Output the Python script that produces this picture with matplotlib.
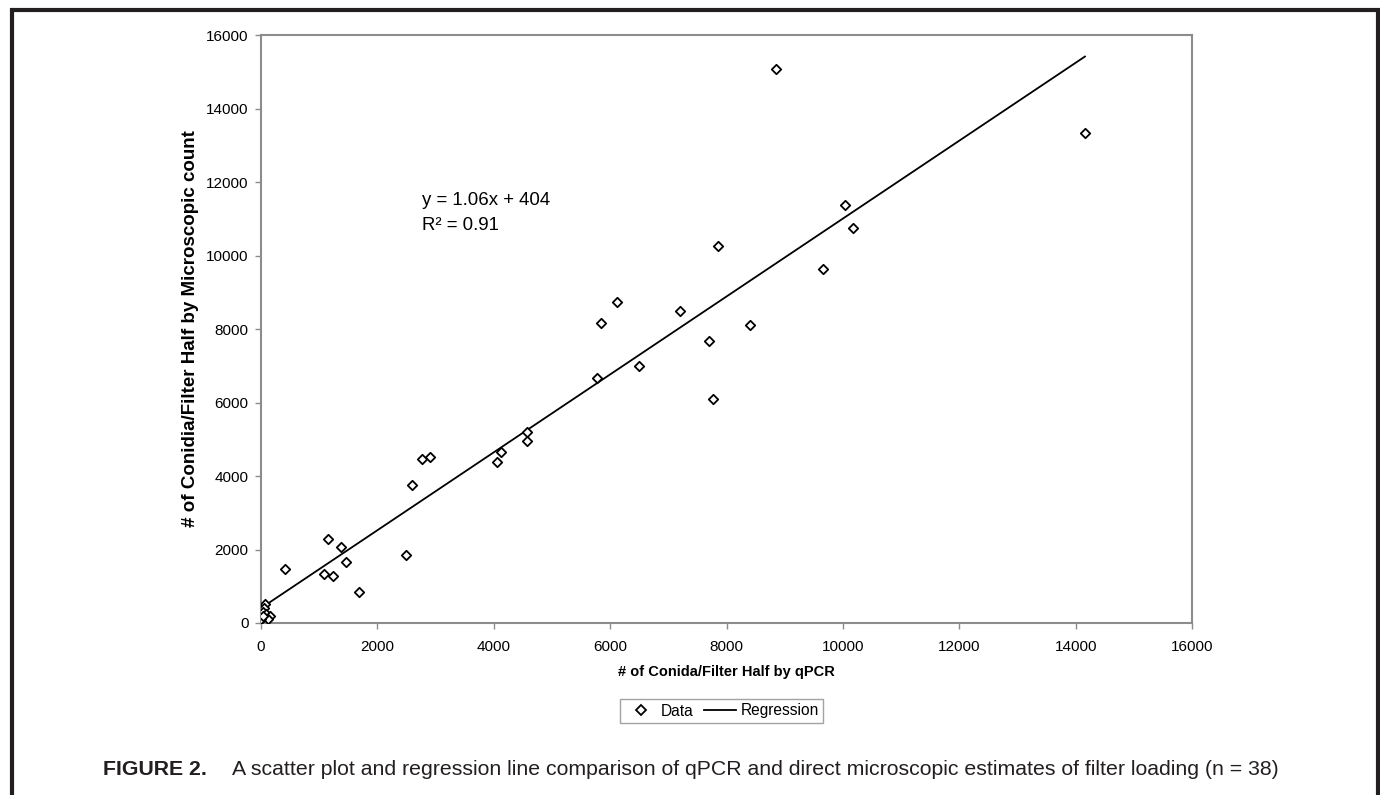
import matplotlib.pyplot as plt
from matplotlib.lines import Line2D
from matplotlib.patches import Rectangle

plt.rcParams['font.family'] = ['Liberation Sans', 'DejaVu Sans']

# qPCR estimate (x) vs microscopic count (y), conidia per filter half
qpcr = [8850, 14160, 10030, 10170, 7860, 9660, 6110, 5840, 7200, 7700,
        8410, 6490, 5780, 7760,
        4570, 4570, 4130, 4060, 2900, 2760, 2600, 2500, 1150, 1380,
        1460, 1090, 1230, 1690, 410,
        70, 50, 40, 90, 155, 10, 125, 5, 30]
micro = [15070, 13330, 11370, 10750, 10250, 9630, 8740, 8160, 8480, 7680,
         8100, 6990, 6680, 6100,
         5190, 4960, 4640, 4390, 4510, 4460, 3760, 1850, 2280, 2070,
         1670, 1340, 1280, 840, 1460,
         520, 400, 310, 245, 190, 130, 100, 110, 200]

slope = 1.06
intercept = 404
r2 = 0.91

ticks = [0, 2000, 4000, 6000, 8000, 10000, 12000, 14000, 16000]

fig = plt.figure(figsize=(13.8, 7.95), dpi=100)
ax = fig.add_axes([261 / 1380, 1 - 623 / 795, 931 / 1380, 588 / 795])

ax.scatter(qpcr, micro, marker='D', s=4.8 ** 2, facecolors='white',
           edgecolors='black', linewidths=1.3, zorder=3)
x0, x1 = min(qpcr), max(qpcr)
ax.plot([x0, x1], [slope * x0 + intercept, slope * x1 + intercept],
        color='black', lw=1.3, zorder=2)

ax.set_xlim(0, 16000)
ax.set_ylim(0, 16000)
ax.set_xticks(ticks)
ax.set_yticks(ticks)
for sp in ax.spines.values():
    sp.set_color('#8c8c8c')
    sp.set_linewidth(1.5)
ax.tick_params(direction='out', length=4, width=1, color='#8c8c8c',
               labelsize=11, labelcolor='black')
ax.tick_params(axis='x', pad=8)
ax.tick_params(axis='y', pad=5)

ax.set_xlabel('# of Conida/Filter Half by qPCR', fontsize=10.5,
              fontweight='bold', labelpad=8)
ax.set_ylabel('# of Conidia/Filter Half by Microscopic count', fontsize=13.5,
              fontweight='bold', labelpad=5)

fig.text(422 / 1380, 1 - 205 / 795, 'y = 1.06x + 404', fontsize=13.4,
         va='baseline', ha='left')
fig.text(422 / 1380, 1 - 230 / 795, 'R² = %.2f' % r2, fontsize=13.4,
         va='baseline', ha='left')

handles = [Line2D([], [], marker='D', ls='none', markersize=4.8,
                  markerfacecolor='white', markeredgecolor='black',
                  markeredgewidth=1.3),
           Line2D([], [], color='black', lw=1.3)]
leg = fig.legend(handles, ['Data', 'Regression'], loc='center',
                 bbox_to_anchor=(721.5 / 1380, 1 - 711 / 795), ncol=2,
                 fontsize=11.2, frameon=True, fancybox=False,
                 handlelength=2.1, handletextpad=0.25, columnspacing=0.65,
                 borderpad=0.3, borderaxespad=0)
leg.get_frame().set_edgecolor('#8c8c8c')
leg.get_frame().set_linewidth(1.0)

fig.text(103 / 1380, 1 - 775 / 795, 'FIGURE 2.', fontsize=15.3,
         fontweight='bold', va='baseline', ha='left', color='#231f20')
fig.text(232 / 1380, 1 - 775 / 795,
         'A scatter plot and regression line comparison of qPCR and direct '
         'microscopic estimates of filter loading (n = 38)',
         fontsize=15.3, va='baseline', ha='left', color='#231f20')

# outer frame of the figure panel (open at the bottom)
fig.patches.append(Rectangle((11.5 / 1380, -0.2), (1377.5 - 11.5) / 1380,
                             1.2 - 10 / 795, transform=fig.transFigure,
                             fill=False, edgecolor='#231f20', lw=3))

fig.savefig('out.png', dpi=100)
